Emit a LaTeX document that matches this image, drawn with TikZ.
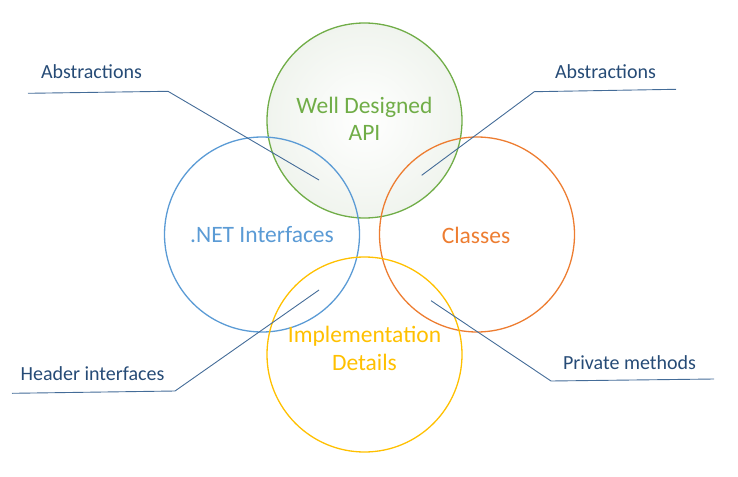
\documentclass[tikz,border=0pt]{standalone}
\usepackage{fontspec}
\setmainfont{Carlito}
\definecolor{cgreen}{RGB}{112,173,71}
\definecolor{cblue}{RGB}{91,155,213}
\definecolor{corange}{RGB}{237,125,49}
\definecolor{cyellow}{RGB}{255,192,0}
\definecolor{cline}{RGB}{68,108,152}
\definecolor{ctext}{RGB}{38,75,118}
\definecolor{cfill}{RGB}{240,244,238}
\tikzset{
  ring/.style={circle, draw=#1, line width=1.3pt, minimum size=195pt, inner sep=0pt},
  bigtext/.style={text=#1, align=center, font=\fontsize{23.5}{27.5}\selectfont, inner sep=0pt},
  calltext/.style={text=ctext, font=\fontsize{20}{24}\selectfont, inner sep=0pt},
  callout/.style={draw=cline, line width=0.9pt}
}
\begin{document}
\begin{tikzpicture}[x=1pt,y=-1pt]
\useasboundingbox (0,0) rectangle (738,476);
% green shaded fill
\shade[inner color=white, outer color=cfill] (364.5,120.5) circle (97.5pt);
\node[ring=cgreen] (api) at (364.5,120.5) {};
\node[ring=cblue] (net) at (262,234.5) {};
\node[ring=corange] (cls) at (477,234.5) {};
\node[ring=cyellow] (impl) at (364.5,354.5) {};
\node[bigtext=cgreen] (tapi) at (364.5,119) {Well Designed\\API};
\node[bigtext=cblue] (tnet) at (262,235) {.NET Interfaces};
\node[bigtext=corange] (tcls) at (476,235) {Classes};
\node[bigtext=cyellow] (timpl) at (364.5,348.5) {Implementation\\Details};
% callouts
\coordinate (a1e) at (319,180);
\coordinate (a1b) at (168,91.3);
\coordinate (a1s) at (28,93.3);
\node[calltext] (l1) at (91.5,72) {Abstractions};
\draw[callout] (a1e) -- (a1b) -- (a1s);
\coordinate (a2e) at (421.7,175.3);
\coordinate (a2b) at (534.3,91.7);
\coordinate (a2s) at (676,89.3);
\node[calltext] (l2) at (605.5,72) {Abstractions};
\draw[callout] (a2e) -- (a2b) -- (a2s);
\coordinate (a3e) at (319,290);
\coordinate (a3b) at (175,391);
\coordinate (a3s) at (12,393.3);
\node[calltext] (l3) at (92.5,374) {Header interfaces};
\draw[callout] (a3e) -- (a3b) -- (a3s);
\coordinate (a4e) at (431,300.7);
\coordinate (a4b) at (551,381);
\coordinate (a4s) at (714,379);
\node[calltext] (l4) at (629.5,363) {Private methods};
\draw[callout] (a4e) -- (a4b) -- (a4s);
\end{tikzpicture}
\end{document}
